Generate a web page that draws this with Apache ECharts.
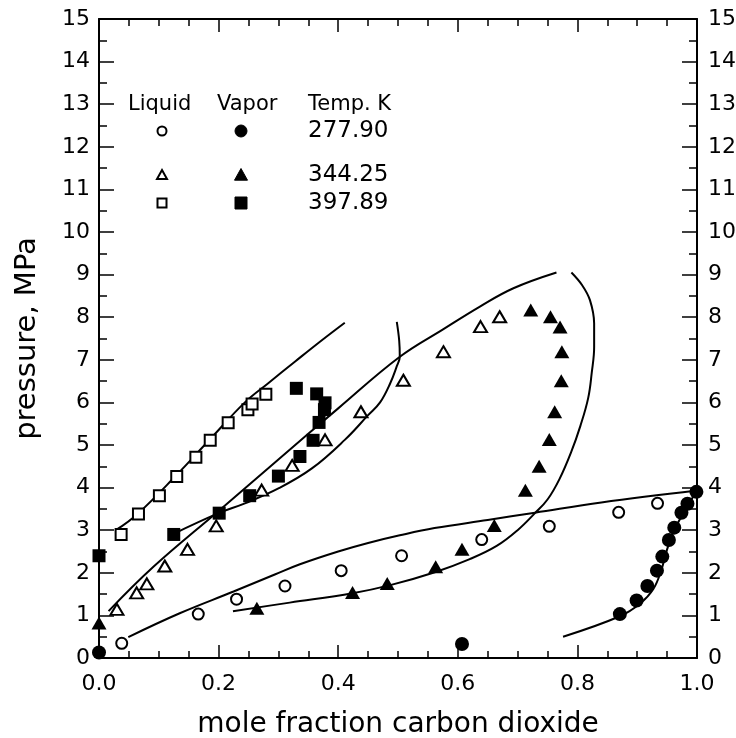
<!DOCTYPE html>
<html>
<head>
<meta charset="utf-8">
<script src="https://cdn.jsdelivr.net/npm/echarts@6/dist/echarts.min.js"></script>
<style>
html,body{margin:0;padding:0;background:#fff;}
#chart{width:736px;height:738px;}
</style>
</head>
<body>
<div id="chart"></div>
<script>
// ---- Data (x = mole fraction CO2, y = pressure MPa) ----
const tempLabels = ['277.90', '344.25', '397.89'];
const legendHeaders = ['Liquid', 'Vapor', 'Temp. K'];
const xTickLabels = ['0.0', '0.2', '0.4', '0.6', '0.8', '1.0'];

// 277.90 K
const liq278 = [[0.038,0.345],[0.166,1.03],[0.230,1.38],[0.311,1.69],[0.405,2.05],[0.506,2.40],[0.640,2.78],[0.753,3.09],[0.869,3.42],[0.934,3.63]];
const vap278 = [[0.0,0.13],[0.607,0.33],[0.871,1.03],[0.899,1.35],[0.917,1.69],[0.933,2.05],[0.942,2.38],[0.953,2.77],[0.962,3.06],[0.974,3.41],[0.984,3.62],[0.999,3.90]];
// 344.25 K
const liq344 = [[0.030,1.14],[0.063,1.53],[0.080,1.74],[0.110,2.16],[0.148,2.55],[0.196,3.10],[0.272,3.94],[0.323,4.52],[0.378,5.12],[0.438,5.78],[0.509,6.52],[0.576,7.19],[0.638,7.78],[0.670,8.01]];
const vap344 = [[0.0,0.82],[0.264,1.17],[0.424,1.54],[0.482,1.75],[0.563,2.14],[0.607,2.55],[0.661,3.11],[0.713,3.94],[0.736,4.50],[0.753,5.13],[0.762,5.78],[0.773,6.51],[0.774,7.19],[0.771,7.77],[0.755,8.01],[0.722,8.17]];
// 397.89 K
const liq398 = [[0.037,2.90],[0.066,3.38],[0.101,3.81],[0.130,4.26],[0.162,4.71],[0.186,5.11],[0.216,5.52],[0.249,5.83],[0.256,5.96],[0.279,6.19]];
const vap398 = [[0.0,2.40],[0.125,2.90],[0.201,3.40],[0.252,3.81],[0.300,4.27],[0.336,4.73],[0.358,5.11],[0.368,5.53],[0.377,5.83],[0.378,5.99],[0.364,6.20],[0.330,6.33]];

// Model curves
const curve278L = [[0.049,0.49],[0.135,1.05],[0.225,1.56],[0.294,1.96],[0.336,2.20],[0.40,2.50],[0.45,2.70],[0.503,2.88],[0.561,3.05],[0.65,3.24],[0.729,3.41],[0.84,3.65],[1.0,3.93]];
const curve278V = [[0.776,0.50],[0.871,0.98],[0.905,1.28],[0.927,1.62],[0.940,2.05],[0.950,2.55],[0.962,3.00],[0.978,3.42],[1.0,3.93]];
const curve344L = [[0.016,1.10],[0.091,2.14],[0.20,3.45],[0.30,4.66],[0.40,5.86],[0.502,7.06],[0.576,7.72],[0.637,8.25],[0.693,8.68],[0.765,9.05]];
const curve344V = [[0.224,1.10],[0.319,1.30],[0.424,1.52],[0.487,1.71],[0.563,2.02],[0.62,2.32],[0.665,2.63],[0.70,3.00],[0.729,3.40],[0.750,3.72],[0.770,4.20],[0.790,4.85],[0.805,5.45],[0.818,6.10],[0.824,6.70],[0.828,7.30],[0.828,7.85],[0.821,8.40],[0.808,8.75],[0.790,9.05]];
const curve398L = [[0.028,3.00],[0.066,3.40],[0.130,4.30],[0.186,5.14],[0.244,6.00],[0.283,6.45],[0.328,6.96],[0.370,7.43],[0.411,7.87]];
const curve398V = [[0.124,2.91],[0.200,3.40],[0.244,3.63],[0.300,3.98],[0.356,4.45],[0.411,5.12],[0.450,5.70],[0.470,6.00],[0.487,6.45],[0.498,6.85],[0.503,7.07],[0.502,7.45],[0.498,7.89]];

// ---- Chart ----
const FONT = 'DejaVu Sans';
const chart = echarts.init(document.getElementById('chart'), null, {renderer: 'canvas'});

function axisCommon() {
  return {
    type: 'value',
    axisLine: {show: true, onZero: false, lineStyle: {color: '#000', width: 2}},
    splitLine: {show: false},
  };
}
const xCommon = (pos, showLabel) => Object.assign(axisCommon(), {
  min: 0, max: 1, interval: 0.2, position: pos,
  axisTick: {show: true, inside: true, length: 13, lineStyle: {color: '#000', width: 1.5}},
  minorTick: {show: true, splitNumber: 4, length: 7, lineStyle: {color: '#000', width: 1.5}},
  axisLabel: {show: showLabel, margin: 15, fontSize: 22, fontFamily: FONT, color: '#000',
    formatter: v => xTickLabels[Math.round(v / 0.2)] || ''}
});
const yCommon = (pos, margin) => Object.assign(axisCommon(), {
  min: 0, max: 15, interval: 1, position: pos,
  axisTick: {show: true, inside: true, length: 15, lineStyle: {color: '#000', width: 1.5}},
  minorTick: {show: true, splitNumber: 2, length: 8, lineStyle: {color: '#000', width: 1.5}},
  axisLabel: {show: true, margin: margin, fontSize: 22, fontFamily: FONT, color: '#000'}
});

const xBottom = xCommon('bottom', true);
xBottom.name = 'mole fraction carbon dioxide';
xBottom.nameLocation = 'middle';
xBottom.nameGap = 53;
xBottom.nameTextStyle = {fontSize: 28, fontFamily: FONT, color: '#000'};
const xTop = xCommon('top', false);

const yLeft = yCommon('left', 9);
yLeft.name = 'pressure, MPa';
yLeft.nameLocation = 'middle';
yLeft.nameGap = 57;
yLeft.nameTextStyle = {fontSize: 29, fontFamily: FONT, color: '#000'};
const yRight = yCommon('right', 11);

function lineSeries(data) {
  return {type: 'line', data: data, smooth: 0.4, symbol: 'none', clip: false,
    lineStyle: {color: '#000', width: 2}, z: 2, silent: true};
}
function scatterSeries(data, symbol, filled, size) {
  return {type: 'scatter', data: data, symbol: symbol, symbolSize: size, clip: false, z: 3,
    itemStyle: filled ? {color: '#000', borderColor: '#000', borderWidth: 0, opacity: 1}
                      : {color: '#fff', borderColor: '#000', borderWidth: 2, opacity: 1}};
}

const series = [
  lineSeries(curve278L), lineSeries(curve278V), lineSeries(curve344L),
  lineSeries(curve344V), lineSeries(curve398L), lineSeries(curve398V),
  scatterSeries(liq278, 'circle', false, 11),
  scatterSeries(vap278, 'circle', true, 14),
  scatterSeries(liq344, 'triangle', false, [13, 11]),
  scatterSeries(vap344, 'triangle', true, [15, 13]),
  scatterSeries(liq398, 'rect', false, 11),
  scatterSeries(vap398, 'rect', true, 13)
];

// Legend (drawn as graphics)
const legX = [128, 217, 308];
const headerY = 105;
const rowY = [131, 175, 203];
const mkX = [162, 241];
const graphics = [];
legendHeaders.forEach((t, i) => graphics.push({type: 'text', x: legX[i], y: headerY,
  style: {text: t, fontSize: 21, fontFamily: FONT, fill: '#000', verticalAlign: 'middle'}}));
tempLabels.forEach((t, i) => graphics.push({type: 'text', x: legX[2], y: rowY[i],
  style: {text: t, fontSize: 23, fontFamily: FONT, fill: '#000', verticalAlign: 'middle'}}));
function legendMarker(kind, filled, cx, cy) {
  const style = filled ? {fill: '#000', stroke: '#000', lineWidth: 1}
                       : {fill: '#fff', stroke: '#000', lineWidth: 2};
  if (kind === 0) return {type: 'circle', shape: {cx: cx, cy: cy, r: filled ? 6 : 4.5}, style: style};
  if (kind === 1) { const s = filled ? 6.5 : 5;
    return {type: 'polygon', shape: {points: [[cx, cy - s], [cx + s, cy + s * 0.8], [cx - s, cy + s * 0.8]]}, style: style}; }
  const h = filled ? 6 : 4.5;
  return {type: 'rect', shape: {x: cx - h, y: cy - h, width: 2 * h, height: 2 * h}, style: style};
}
for (let k = 0; k < 3; k++) {
  graphics.push(legendMarker(k, false, mkX[0], rowY[k]));
  graphics.push(legendMarker(k, true, mkX[1], rowY[k]));
}

chart.setOption({
  animation: false,
  backgroundColor: '#fff',
  grid: {left: 99, right: 39, top: 19, bottom: 80, containLabel: false, outerBoundsMode: 'none'},
  xAxis: [xBottom, xTop],
  yAxis: [yLeft, yRight],
  series: series,
  graphic: graphics
});
</script>
</body>
</html>
